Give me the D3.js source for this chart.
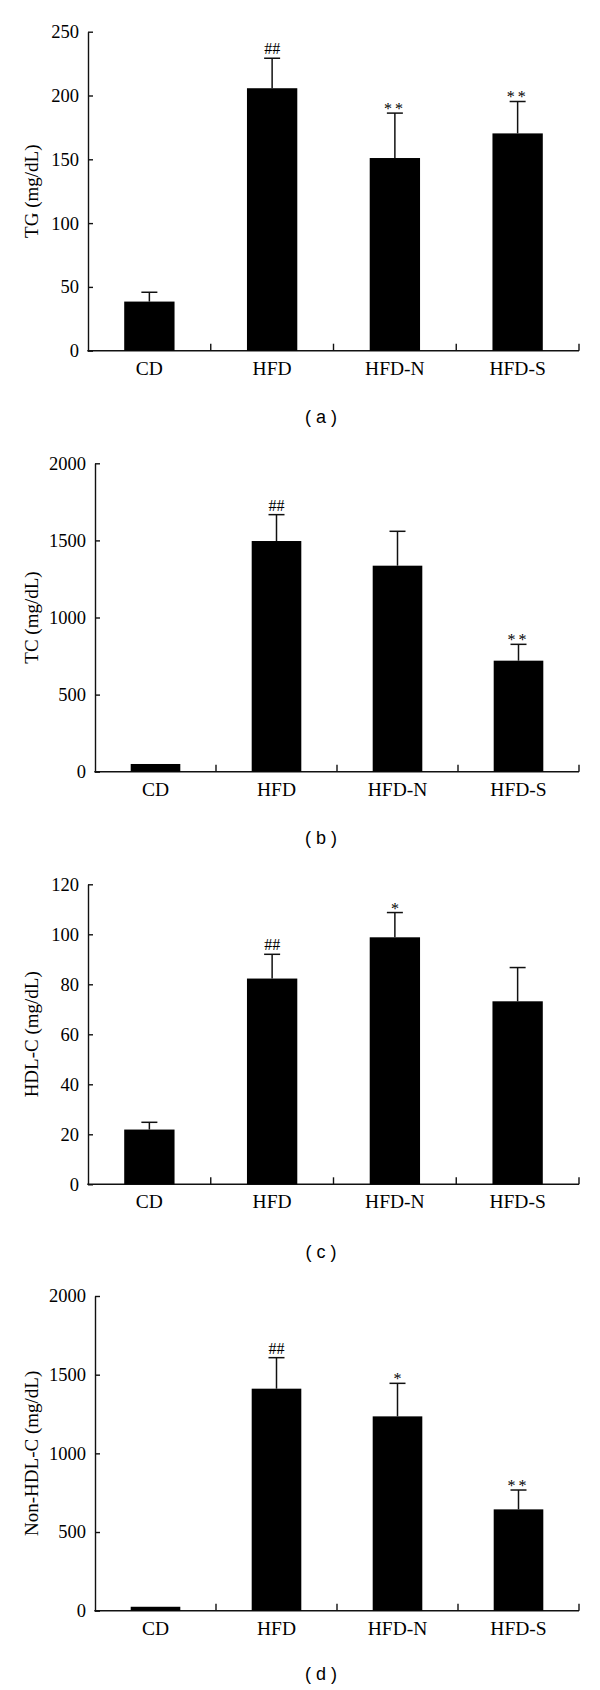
<!DOCTYPE html>
<html>
<head>
<meta charset="utf-8">
<script src="https://cdn.jsdelivr.net/npm/d3@7"></script>
<style>
  body { margin: 0; background: #fff; }
  svg text { fill: #000; }
</style>
</head>
<body>
<div id="chart"></div>
<script>
// groups on the x axis
var groups = ["CD", "HFD", "HFD-N", "HFD-S"];

// (a) TG
var tgMean = [38.5, 205.7, 151, 170.3];
var tgErr = [7.3, 23.5, 35.2, 25];
var tgMarks = ["", "##", "**", "**"];
var tgTicks = [0, 50, 100, 150, 200, 250];

// (b) TC
var tcMean = [50, 1496, 1336, 720];
var tcErr = [0, 171, 223, 106];
var tcMarks = ["", "##", "", "**"];
var tcTicks = [0, 500, 1000, 1500, 2000];

// (c) HDL-C
var hdlMean = [21.9, 82.3, 98.8, 73.2];
var hdlErr = [2.9, 9.7, 9.9, 13.5];
var hdlMarks = ["", "##", "*", ""];
var hdlTicks = [0, 20, 40, 60, 80, 100, 120];

// (d) Non-HDL-C
var nonMean = [25, 1411, 1235, 644];
var nonErr = [0, 197, 210, 123];
var nonMarks = ["", "##", "*", "**"];
var nonTicks = [0, 500, 1000, 1500, 2000];

var panels = [
  {label: "TG (mg/dL)", caption: "( a )", mean: tgMean, err: tgErr, marks: tgMarks, ticks: tgTicks,
   left: 88, right: 579, top: 31.7, bottom: 350.7, capY: 417},
  {label: "TC (mg/dL)", caption: "( b )", mean: tcMean, err: tcErr, marks: tcMarks, ticks: tcTicks,
   left: 95, right: 579, top: 463.3, bottom: 771.7, capY: 838},
  {label: "HDL-C (mg/dL)", caption: "( c )", mean: hdlMean, err: hdlErr, marks: hdlMarks, ticks: hdlTicks,
   left: 88, right: 579, top: 884.3, bottom: 1184.3, capY: 1252},
  {label: "Non-HDL-C (mg/dL)", caption: "( d )", mean: nonMean, err: nonErr, marks: nonMarks, ticks: nonTicks,
   left: 95, right: 579, top: 1296, bottom: 1610.7, capY: 1674}
];

var svg = d3.select("#chart").append("svg")
    .attr("width", 600)
    .attr("height", 1690)
    .style("font-family", "'Liberation Serif', 'Times New Roman', serif");

var pad = 0.59;

panels.forEach(function(p) {
  var g = svg.append("g");

  var x = d3.scaleBand()
      .domain(groups)
      .range([p.left, p.right])
      .paddingInner(pad)
      .paddingOuter(pad / 2);

  var y = d3.scaleLinear()
      .domain([0, d3.max(p.ticks)])
      .range([p.bottom, p.top]);

  // y axis, ticks point inward
  var yAxis = d3.axisLeft(y)
      .tickValues(p.ticks)
      .tickFormat(d3.format("d"))
      .tickSize(-5)
      .tickSizeOuter(0)
      .tickPadding(9);
  var ya = g.append("g")
      .attr("transform", "translate(" + p.left + ",0)")
      .call(yAxis);
  ya.select(".domain").attr("stroke", "#111").attr("stroke-width", 1.4);
  ya.selectAll(".tick line").attr("stroke", "#111").attr("stroke-width", 1.4);
  ya.selectAll(".tick text")
      .style("font-family", "'Liberation Serif', serif")
      .style("font-size", "18.5px")
      .attr("fill", "#000");

  // x axis line
  g.append("line")
      .attr("x1", p.left - 0.7).attr("x2", p.right)
      .attr("y1", y(0)).attr("y2", y(0))
      .attr("stroke", "#111").attr("stroke-width", 1.4);

  // boundary ticks pointing up
  g.selectAll(".xtick")
      .data(groups)
      .enter().append("line")
      .attr("x1", function(d) { return x(d) + x.bandwidth() / 2 + x.step() / 2; })
      .attr("x2", function(d) { return x(d) + x.bandwidth() / 2 + x.step() / 2; })
      .attr("y1", y(0)).attr("y2", y(0) - 7)
      .attr("stroke", "#111").attr("stroke-width", 1.4);

  g.selectAll(".xlab")
      .data(groups)
      .enter().append("text")
      .attr("x", function(d) { return x(d) + x.bandwidth() / 2; })
      .attr("y", y(0) + 24)
      .attr("text-anchor", "middle")
      .style("font-size", "19.5px")
      .text(function(d) { return d; });

  var rows = groups.map(function(c, i) {
    return {c: c, v: p.mean[i], e: p.err[i], m: p.marks[i]};
  });

  // error bars (drawn under the bars)
  var eb = g.selectAll(".err")
      .data(rows.filter(function(d) { return d.e > 0; }))
      .enter().append("g");
  eb.append("line")
      .attr("x1", function(d) { return x(d.c) + x.bandwidth() / 2; })
      .attr("x2", function(d) { return x(d.c) + x.bandwidth() / 2; })
      .attr("y1", function(d) { return y(d.v); })
      .attr("y2", function(d) { return y(d.v + d.e); })
      .attr("stroke", "#111").attr("stroke-width", 1.5);
  eb.append("line")
      .attr("x1", function(d) { return x(d.c) + x.bandwidth() / 2 - 8; })
      .attr("x2", function(d) { return x(d.c) + x.bandwidth() / 2 + 8; })
      .attr("y1", function(d) { return y(d.v + d.e); })
      .attr("y2", function(d) { return y(d.v + d.e); })
      .attr("stroke", "#111").attr("stroke-width", 1.5);

  g.selectAll(".bar")
      .data(rows)
      .enter().append("rect")
      .attr("x", function(d) { return x(d.c); })
      .attr("width", x.bandwidth())
      .attr("y", function(d) { return y(d.v); })
      .attr("height", function(d) { return y(0) - y(d.v); })
      .attr("fill", "#000");

  // significance marks
  g.selectAll(".mark")
      .data(rows.filter(function(d) { return d.m; }))
      .enter().append("text")
      .attr("x", function(d) { return x(d.c) + x.bandwidth() / 2; })
      .attr("y", function(d) {
        var top = y(d.v + d.e);
        return d.m.charAt(0) === "#" ? top - 4 : top + 1;
      })
      .attr("text-anchor", "middle")
      .style("font-size", "16px")
      .style("letter-spacing", function(d) { return d.m === "**" ? "3px" : "0px"; })
      .text(function(d) { return d.m; });

  // y title
  g.append("text")
      .attr("transform", "translate(31," + ((p.top + p.bottom) / 2) + ") rotate(-90)")
      .attr("text-anchor", "middle")
      .attr("dy", "0.35em")
      .style("font-size", "19px")
      .text(p.label);

  // panel caption
  g.append("text")
      .attr("x", 321)
      .attr("y", p.capY)
      .attr("dy", "0.35em")
      .attr("text-anchor", "middle")
      .style("font-family", "'Liberation Sans', Arial, sans-serif")
      .style("font-size", "18px")
      .text(p.caption);
});
</script>
</body>
</html>
